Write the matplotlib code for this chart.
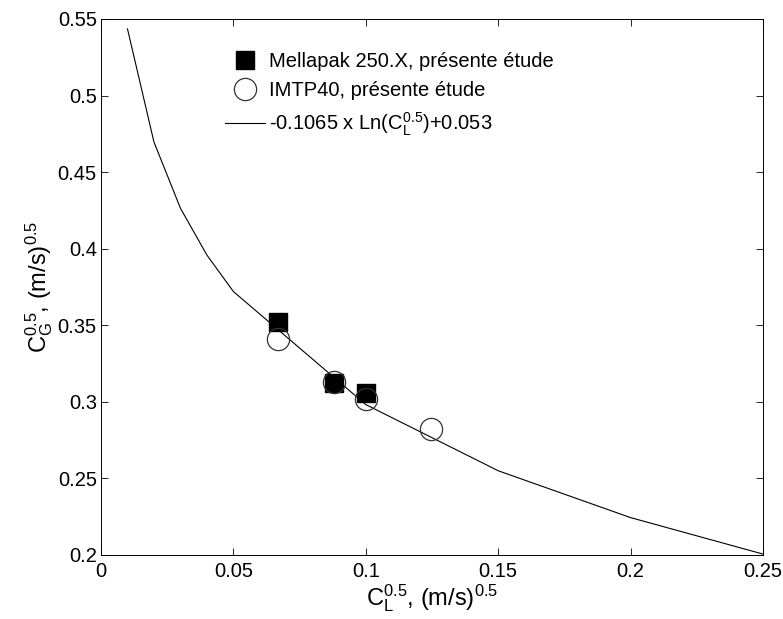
import matplotlib
matplotlib.use('Agg')
import matplotlib.pyplot as plt

plt.rcParams['font.family'] = ['Liberation Sans', 'DejaVu Sans']
plt.rcParams['mathtext.default'] = 'regular'

# correlation curve (piecewise segments)
fit_x = [0.01, 0.02, 0.03, 0.04, 0.05, 0.10, 0.15, 0.20, 0.25]
fit_y = [0.5435, 0.4696, 0.4264, 0.3958, 0.3720, 0.2982, 0.2550, 0.2244, 0.2006]

# Mellapak 250.X
mel_x = [0.0667, 0.0880, 0.1000]
mel_y = [0.352, 0.312, 0.306]

# IMTP40
imtp_x = [0.0667, 0.0880, 0.1000, 0.1245]
imtp_y = [0.341, 0.313, 0.302, 0.282]

fig = plt.figure(figsize=(7.83, 6.19), dpi=100)
ax = fig.add_axes([0.1290, 0.1034, 0.8455, 0.8660])

ax.plot(mel_x, mel_y, 's', color='black', markersize=12.5, zorder=3,
        label='Mellapak 250.X, présente étude')
ax.plot(imtp_x, imtp_y, 'o', markerfacecolor='none', markeredgecolor='#333333',
        markeredgewidth=0.9, markersize=16, zorder=4,
        label='IMTP40, présente étude')
ax.plot(fit_x, fit_y, '-', color='black', linewidth=0.8, zorder=2,
        label='-0.1065 x Ln($C_L^{0.5}$)+0.053')

ax.set_xlim(0, 0.25)
ax.set_ylim(0.2, 0.55)
ax.set_xticks([0, 0.05, 0.1, 0.15, 0.2, 0.25])
ax.set_xticklabels(['0', '0.05', '0.1', '0.15', '0.2', '0.25'])
ax.set_yticks([0.2, 0.25, 0.3, 0.35, 0.4, 0.45, 0.5, 0.55])
ax.set_yticklabels(['0.2', '0.25', '0.3', '0.35', '0.4', '0.45', '0.5', '0.55'])
ax.tick_params(direction='in', top=True, right=True, labelsize=14.5, length=5,
               width=0.6)
ax.tick_params(axis='x', pad=5)
ax.tick_params(axis='y', pad=3)
for s in ax.spines.values():
    s.set_linewidth(0.7)

ax.set_xlabel('$C_L^{0.5}$, (m/s)$^{0.5}$', fontsize=17, labelpad=1)
ax.set_ylabel('$C_G^{0.5}$, (m/s)$^{0.5}$', fontsize=17, labelpad=2)

ax.legend(loc='upper left', bbox_to_anchor=(0.16, 0.972), frameon=False,
          fontsize=14.5, handlelength=2.0, handletextpad=0.2, labelspacing=0.5,
          numpoints=1)

fig.savefig('out.png', dpi=100)
